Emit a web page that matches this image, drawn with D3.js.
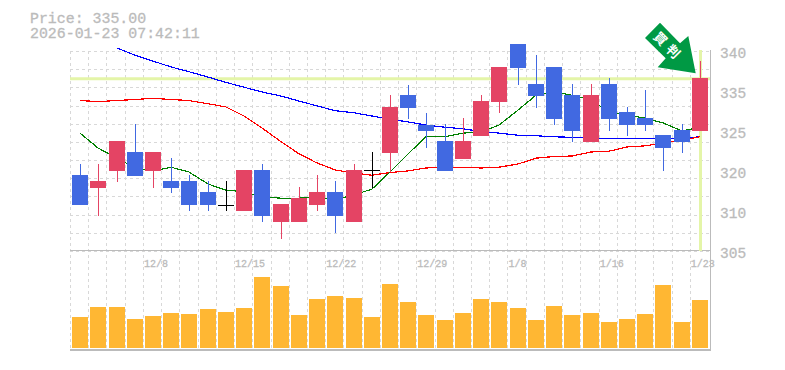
<!DOCTYPE html>
<html>
<head>
<meta charset="utf-8">
<script src="https://cdn.jsdelivr.net/npm/d3@7"></script>
<style>
  html, body { margin: 0; padding: 0; background: #fff; }
  svg { display: block; }
  text { font-family: "Liberation Mono", monospace; fill: #bbb; stroke: #bbb; stroke-width: 0.3px; }
  .axis path, .axis line { display: none; }
</style>
</head>
<body>
<div id="chart"></div>
<script>
// candles, oldest first
let opens = [316.9, 314.5, 317.7, 321.25, 317.7, 315.8, 315.8, 313.75, 311.4, 310.2, 317.9, 308.1, 308.1, 311.3, 313.75, 308.1, 317.9, 321.1, 331.9, 326.3, 323.3, 319.9, 324.25, 330.6, 341.5, 334, 337.2, 331.9, 323.1, 334, 328.75, 327.6, 324.4, 325.4, 325.2];
let closes = [311.3, 315.8, 323.3, 316.75, 321.25, 314.5, 311.3, 311.3, 311.4, 317.9, 309.25, 311.5, 312.6, 313.75, 309.25, 317.9, 317.9, 329.7, 329.5, 325.2, 317.7, 323.3, 330.8, 337.2, 337, 331.75, 327.4, 325.2, 331.9, 327.4, 326.3, 326.3, 322, 323.1, 335.1];
let highs = [319, 319, 323.3, 326.5, 321.25, 320.1, 316.9, 315.8, 315.8, 317.9, 319, 311.5, 314.7, 316.9, 315.8, 319, 321.25, 331.9, 333.8, 328.6, 326.5, 327.6, 331.9, 337.2, 341.5, 339.4, 337.2, 334, 334, 335.1, 329.7, 332.9, 324.4, 326.5, 338.3];
let lows = [311.3, 309.25, 315.6, 316.75, 314.5, 313.6, 310.2, 310.2, 310.2, 310.2, 308.1, 304.9, 308.1, 310.2, 306, 308.1, 314.5, 317.5, 327.4, 322, 317.7, 319.9, 324.25, 328.6, 333.8, 329.5, 326.3, 323.1, 323.1, 325.2, 324.25, 325.2, 317.7, 321.1, 325.2];

// moving averages
let maShort = [324.8, 322, 320.1, 318.25, 317.7, 318.4, 317.5, 315.25, 314.1, 313.8, 312.8, 312.6, 312.6, 312.8, 312.3, 313.2, 314.3, 317.5, 320.9, 324.1, 324.1, 324.8, 325, 326.3, 329.1, 331.9, 332.5, 331.9, 331, 328.75, 328.2, 327.6, 326.7, 325.2, 325.9];
let maMid = [330.9, 330.7, 330.9, 331.1, 331.3, 331.1, 330.9, 330.3, 329.7, 328, 325.75, 323.2, 320.9, 319.2, 317.9, 317.3, 316.9, 317.4, 317.7, 318.25, 318.4, 318.4, 318.25, 318.4, 319, 320.1, 320.4, 320.5, 321.25, 321.4, 322.2, 322.4, 322.9, 323.5, 324.1];
let maLong = [null, null, 340.75, 339.4, 338.3, 337.2, 336.3, 335.3, 334.3, 333.4, 332.5, 331.75, 330.8, 329.9, 329, 328.6, 328, 327.4, 326.9, 326.3, 325.9, 325.6, 325.1, 324.8, 324.4, 324.3, 324.1, 324, 323.9, 323.8, 323.8, 323.8, 323.8, 323.8, 324.1];

// volume
let volume = [31, 41, 41, 29, 32, 35, 34, 39, 36, 40, 71, 62, 33, 49, 52, 50, 31, 64, 46, 33, 28, 35, 49, 46, 40, 28, 42, 33, 35, 26, 29, 34, 63, 26, 48];

let priceTicks = [340, 332.5, 325, 317.5, 310, 302.5];
let priceLabels = ['340', '335', '325', '320', '310', '305'];
let dateIndex = [4, 9, 14, 19, 24, 29, 34];
let dateLabels = ['12/8', '12/15', '12/22', '12/29', '1/8', '1/16', '1/23'];
let titleLines = ['Price: 335.00', '2026-01-23 07:42:11'];
let lastPrice = 335;

let width = 785, height = 370;
let plotLeft = 71, plotRight = 709, plotTop = 51, plotMid = 251, plotBottom = 349;

let svg = d3.select('#chart').append('svg')
    .attr('width', width)
    .attr('height', height);

let x = d3.scaleBand()
    .domain(d3.range(opens.length))
    .range([plotLeft, plotRight]);

let y = d3.scaleLinear()
    .domain([340, 302.5])
    .range([52, 252]);

let yVol = d3.scaleLinear()
    .domain([0, 100])
    .range([348, 248]);

let yGrid = d3.scaleLinear()
    .domain([0, 11])
    .range([plotTop, plotMid]);

let center = function (i) { return Math.round(x(i) + x.bandwidth() / 2); };

// title
svg.selectAll('.title')
    .data(titleLines)
    .enter().append('text')
    .attr('class', 'title')
    .attr('x', 30)
    .attr('y', function (d, i) { return 23 + i * 14.5; })
    .attr('font-size', '14.9px')
    .text(function (d) { return d; });

// dashed grid
let grid = svg.append('g')
    .attr('stroke', '#d8d8d8')
    .attr('stroke-dasharray', '3,3')
    .attr('shape-rendering', 'crispEdges');

grid.selectAll('.h')
    .data(d3.range(12))
    .enter().append('line')
    .attr('x1', plotLeft - 1)
    .attr('x2', plotRight)
    .attr('y1', function (d) { return Math.round(yGrid(d)) + 0.5; })
    .attr('y2', function (d) { return Math.round(yGrid(d)) + 0.5; });

grid.selectAll('.v')
    .data(d3.range(opens.length))
    .enter().append('line')
    .attr('x1', function (d) { return Math.round(x(d)) - 0.5; })
    .attr('x2', function (d) { return Math.round(x(d)) - 0.5; })
    .attr('y1', plotTop)
    .attr('y2', plotBottom + 1);

// panel borders
let border = svg.append('g')
    .attr('stroke', '#bbb')
    .attr('shape-rendering', 'crispEdges');
border.append('line').attr('x1', plotLeft - 1).attr('x2', plotRight + 2).attr('y1', 250.5).attr('y2', 250.5);
border.append('line').attr('x1', plotLeft - 1).attr('x2', plotRight + 2).attr('y1', 349.5).attr('y2', 349.5).attr('stroke-width', 2);
border.append('line').attr('x1', plotRight + 1.5).attr('x2', plotRight + 1.5).attr('y1', 50).attr('y2', plotBottom + 1);

// latest price cross
svg.append('line')
    .attr('x1', plotLeft - 1)
    .attr('x2', plotRight + 1)
    .attr('y1', y(lastPrice))
    .attr('y2', y(lastPrice))
    .attr('stroke', '#e4f5a8')
    .attr('stroke-width', 3);
svg.append('line')
    .attr('x1', center(34) + 0.5)
    .attr('x2', center(34) + 0.5)
    .attr('y1', 50)
    .attr('y2', plotMid)
    .attr('stroke', '#e4f5a8')
    .attr('stroke-width', 3);

// moving averages
let maLine = d3.line()
    .defined(function (d) { return d !== null; })
    .x(function (d, i) { return center(i); })
    .y(function (d) { return y(d); });

[[maLong, '#0000ff'], [maMid, '#ff0000'], [maShort, '#008000']].forEach(function (m) {
    svg.append('path')
        .attr('d', maLine(m[0]))
        .attr('fill', 'none')
        .attr('stroke', m[1])
        .attr('stroke-width', 1.2)
        .attr('shape-rendering', 'crispEdges');
});

// candles
let candleColor = function (i) {
    if (opens[i] === closes[i]) return '#000';
    return closes[i] > opens[i] ? '#e44464' : '#4169e1';
};

let candles = svg.append('g')
    .attr('shape-rendering', 'crispEdges');

candles.selectAll('.wick')
    .data(d3.range(opens.length))
    .enter().append('line')
    .attr('x1', function (d) { return center(d) + 0.5; })
    .attr('x2', function (d) { return center(d) + 0.5; })
    .attr('y1', function (d) { return y(highs[d]); })
    .attr('y2', function (d) { return y(lows[d]); })
    .attr('stroke', candleColor);

candles.selectAll('.body')
    .data(d3.range(opens.length))
    .enter().append('rect')
    .attr('x', function (d) { return center(d) - 8; })
    .attr('y', function (d) { return y(Math.max(opens[d], closes[d])); })
    .attr('width', 16)
    .attr('height', function (d) {
        return Math.max(1, Math.abs(y(opens[d]) - y(closes[d])));
    })
    .attr('fill', candleColor);

// volume bars
svg.selectAll('.vol')
    .data(volume)
    .enter().append('rect')
    .attr('x', function (d, i) { return center(i) - 8; })
    .attr('y', function (d) { return yVol(d); })
    .attr('width', 16)
    .attr('height', function (d) { return yVol(0) - yVol(d); })
    .attr('fill', '#ffb733')
    .attr('shape-rendering', 'crispEdges');

// axes
let yAxis = d3.axisRight(y)
    .tickValues(priceTicks)
    .tickSize(0)
    .tickPadding(0)
    .tickFormat(function (d, i) { return priceLabels[i]; });
svg.append('g')
    .attr('class', 'axis')
    .attr('transform', 'translate(720,1)')
    .call(yAxis)
    .selectAll('text')
    .attr('font-size', '14.5px')
    .attr('font-family', '"Liberation Mono", monospace')
    .attr('fill', '#bbb');

let xAxis = d3.axisBottom(x)
    .tickValues(dateIndex)
    .tickSize(0)
    .tickPadding(0)
    .tickFormat(function (d, i) { return dateLabels[i]; });
svg.append('g')
    .attr('class', 'axis')
    .attr('transform', 'translate(0,260)')
    .call(xAxis)
    .selectAll('text')
    .attr('x', -x.bandwidth() / 2)
    .attr('text-anchor', 'start')
    .attr('font-size', '10px')
    .attr('font-family', '"Liberation Mono", monospace')
    .attr('fill', '#bbb');

// signal arrow
let arrowPoints = [[660, 22.7], [645, 38], [665.7, 58.3], [657.7, 67.3], [695.7, 73.3], [688.3, 36], [680, 43.3]];
let arrow = svg.append('g');
arrow.append('path')
    .attr('d', d3.line()(arrowPoints) + 'Z')
    .attr('fill', '#009944');

arrow.selectAll('.sign')
    .data([['買', 660.7, 38.7], ['判', 673.3, 51.3]])
    .enter().append('text')
    .attr('transform', function (d) {
        return 'translate(' + d[1] + ',' + d[2] + ') rotate(45)';
    })
    .attr('text-anchor', 'middle')
    .attr('dy', '0.38em')
    .attr('font-size', '13px')
    .attr('font-weight', 'bold')
    .style('font-family', '"Noto Sans CJK JP"')
    .style('fill', '#fff')
    .style('stroke', 'none')
    .text(function (d) { return d[0]; });
</script>
</body>
</html>
